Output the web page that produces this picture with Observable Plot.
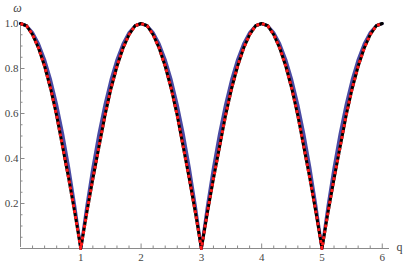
<!DOCTYPE html>
<html>
<head>
<meta charset="utf-8">
<script src="https://cdn.jsdelivr.net/npm/d3@7"></script>
<script src="https://cdn.jsdelivr.net/npm/@observablehq/plot@0.6"></script>
<style>
  html, body { margin: 0; padding: 0; background: #fff; }
  #chart svg { display: block; }
  #chart svg text { font-family: 'Liberation Serif', serif !important; }
</style>
</head>
<body>
<div id="chart"></div>
<script>
const qValues = [0.0,0.1,0.2,0.3,0.4,0.5,0.6,0.7,0.8,0.9,1.0,
  1.1,1.2,1.3,1.4,1.5,1.6,1.7,1.8,1.9,2.0,
  2.1,2.2,2.3,2.4,2.5,2.6,2.7,2.8,2.9,3.0,
  3.1,3.2,3.3,3.4,3.5,3.6,3.7,3.8,3.9,4.0,
  4.1,4.2,4.3,4.4,4.5,4.6,4.7,4.8,4.9,5.0,
  5.1,5.2,5.3,5.4,5.5,5.6,5.7,5.8,5.9,6.0];

const blueOmega = [1.00,0.99,0.96,0.91,0.84,0.75,0.64,0.51,0.36,0.19,0.00,
  0.19,0.36,0.51,0.64,0.75,0.84,0.91,0.96,0.99,1.00,
  0.99,0.96,0.91,0.84,0.75,0.64,0.51,0.36,0.19,0.00,
  0.19,0.36,0.51,0.64,0.75,0.84,0.91,0.96,0.99,1.00,
  0.99,0.96,0.91,0.84,0.75,0.64,0.51,0.36,0.19,0.00,
  0.19,0.36,0.51,0.64,0.75,0.84,0.91,0.96,0.99,1.00];

const blackOmega = [1.00,0.99,0.95,0.89,0.81,0.71,0.59,0.45,0.31,0.16,0.00,
  0.16,0.31,0.45,0.59,0.71,0.81,0.89,0.95,0.99,1.00,
  0.99,0.95,0.89,0.81,0.71,0.59,0.45,0.31,0.16,0.00,
  0.16,0.31,0.45,0.59,0.71,0.81,0.89,0.95,0.99,1.00,
  0.99,0.95,0.89,0.81,0.71,0.59,0.45,0.31,0.16,0.00,
  0.16,0.31,0.45,0.59,0.71,0.81,0.89,0.95,0.99,1.00];

const xMajorTicks = [1, 2, 3, 4, 5, 6];
const xTickLabels = ["1", "2", "3", "4", "5", "6"];
const xMinorTicks = d3.range(1, 31).map(i => i / 5).filter(v => Math.abs(v - Math.round(v)) > 1e-9);
const yMajorTicks = [0.2, 0.4, 0.6, 0.8, 1.0];
const yTickLabels = ["0.2", "0.4", "0.6", "0.8", "1.0"];
const yMinorTicks = d3.range(1, 21).map(i => i / 20).filter(v => Math.abs(v * 5 - Math.round(v * 5)) > 1e-9);

const blueData = qValues.map((q, i) => ({q, w: blueOmega[i]}));
const blackData = qValues.map((q, i) => ({q, w: blackOmega[i]}));

const W = 407, H = 265;
const mL = 20, mR = 18, mT = 23, mB = 17;
const pxPerY = (H - mT - mB) / 1.0;
const pxPerX = (W - mL - mR) / 6.12;
const axisColor = "#8a8a8a";
const labelColor = "#444";
const font = "'Liberation Serif', serif";

const plot = Plot.plot({
  width: W,
  height: H,
  marginLeft: mL,
  marginRight: mR,
  marginTop: mT,
  marginBottom: mB,
  x: {domain: [0, 6.12], axis: null},
  y: {domain: [0, 1], axis: null},
  style: {fontFamily: font, background: "#fff", overflow: "visible"},
  marks: [
    Plot.ruleY([0], {x1: 0, x2: 6.12, stroke: axisColor, strokeWidth: 1}),
    Plot.ruleX([0], {y1: 0, y2: 1.0, stroke: axisColor, strokeWidth: 1, insetTop: -1}),
    Plot.ruleX(xMajorTicks, {x: d => d, y1: 0, y2: 4.5 / pxPerY, stroke: axisColor}),
    Plot.ruleX(xMinorTicks, {x: d => d, y1: 0, y2: 2.5 / pxPerY, stroke: axisColor}),
    Plot.ruleY(yMajorTicks, {y: d => d, x1: 0, x2: 4.5 / pxPerX, stroke: axisColor}),
    Plot.ruleY(yMinorTicks, {y: d => d, x1: 0, x2: 2.5 / pxPerX, stroke: axisColor}),
    Plot.text(xMajorTicks, {x: d => d, y: 0, text: (d, i) => xTickLabels[i], dy: 9, fontSize: 11, fill: labelColor, fontFamily: font}),
    Plot.text(yMajorTicks, {x: 0, y: d => d, text: (d, i) => yTickLabels[i], dx: -2, textAnchor: "end", fontSize: 11, fill: labelColor, fontFamily: font}),
    Plot.text(["ω"], {x: 0, y: 1, text: d => d, dx: -3, dy: -15, fontSize: 12, fontStyle: "italic", fill: labelColor, fontFamily: font}),
    Plot.text(["q"], {x: 6.12, y: 0, text: d => d, dx: 10, dy: -1, fontSize: 12, fill: labelColor, fontFamily: font}),
    Plot.line(blueData, {x: "q", y: "w", stroke: "#4a4aa3", strokeWidth: 3, curve: "linear"}),
    Plot.line(blackData, {x: "q", y: "w", stroke: "#000", strokeWidth: 3, curve: "linear"}),
    Plot.line(blackData, {x: "q", y: "w", stroke: "#ff1a1a", strokeWidth: 3, strokeDasharray: "3,3", strokeLinecap: "butt", curve: "linear"})
  ]
});
document.getElementById("chart").appendChild(plot);
</script>
</body>
</html>
